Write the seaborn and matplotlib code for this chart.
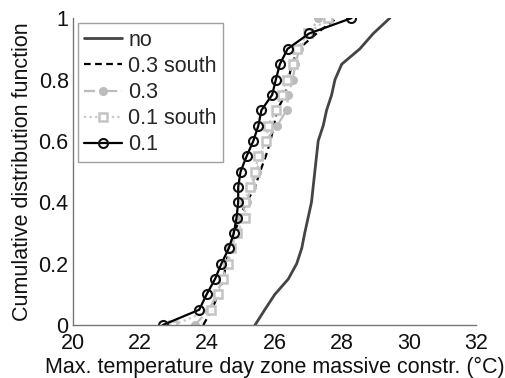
import numpy as np
import pandas as pd
import matplotlib
matplotlib.use("Agg")
import matplotlib.pyplot as plt
import seaborn as sns

cdf = [0.0, 0.05, 0.1, 0.15, 0.2, 0.25, 0.3, 0.35, 0.4, 0.45, 0.5,
       0.55, 0.6, 0.65, 0.7, 0.75, 0.8, 0.85, 0.9, 0.95, 1.0]
t_no = [25.42, 25.71, 26.01, 26.41, 26.66, 26.81, 26.90, 27.00, 27.10, 27.15, 27.20,
        27.25, 27.30, 27.45, 27.55, 27.70, 27.80, 28.00, 28.54, 28.94, 29.43]
t_03s = [23.88, 24.13, 24.33, 24.49, 24.55, 24.67, 24.82, 24.95, 25.17, 25.42, 25.57,
         25.74, 25.88, 25.98, 26.08, 26.31, 26.42, 26.51, 26.72, 27.25, 27.85]
t_03 = [23.63, 24.05, 24.28, 24.45, 24.58, 24.70, 24.84, 24.98, 25.17, 25.32, 25.47,
        25.57, 25.74, 26.08, 26.36, 26.41, 26.54, 26.62, 26.74, 27.05, 27.30]
t_01s = [22.99, 24.11, 24.33, 24.47, 24.62, 24.72, 24.87, 25.12, 25.12, 25.27, 25.42,
         25.52, 25.76, 25.81, 26.04, 26.21, 26.36, 26.54, 26.68, 27.00, 27.60]
t_01 = [22.67, 23.76, 23.98, 24.23, 24.42, 24.64, 24.79, 24.87, 24.92, 24.92, 24.99,
        25.17, 25.37, 25.52, 25.61, 25.93, 26.04, 26.16, 26.39, 27.03, 28.29]
series_names = ["no", "0.3 south", "0.3", "0.1 south", "0.1"]
x_ticks = [20, 22, 24, 26, 28, 30, 32]
y_ticks = [0, 0.2, 0.4, 0.6, 0.8, 1]
y_tick_labels = ["0", "0.2", "0.4", "0.6", "0.8", "1"]

sns.set_theme(style="white")
plt.rcParams["font.family"] = ["Liberation Sans", "DejaVu Sans"]

df = pd.concat([
    pd.DataFrame({"T": vals, "F": cdf, "case": name})
    for name, vals in zip(series_names, [t_no, t_03s, t_03, t_01s, t_01])
], ignore_index=True)

styles = {
    "no": dict(color="#444444", lw=2.0, ls="-", marker=None),
    "0.3 south": dict(color="black", lw=1.6, ls=(0, (3, 2)), marker=None),
    "0.3": dict(color="#bcbcbc", lw=1.6, ls=(0, (5, 2, 1, 2)), marker="o",
                ms=5.5, mfc="#bcbcbc", mec="#bcbcbc", mew=1.0),
    "0.1 south": dict(color="#c8c8c8", lw=1.6, ls=(0, (1, 1.5)), marker="s",
                      ms=5.5, mfc="white", mec="#c4c4c4", mew=1.8),
    "0.1": dict(color="black", lw=1.6, ls="-", marker="o",
                ms=6.5, mfc="none", mec="#111111", mew=1.5),
}

FS = 15.5

fig = plt.figure(figsize=(5.06, 3.78), dpi=100)
ax = fig.add_axes([0.144, 0.140, 0.797, 0.812])

for name in series_names:
    st = styles[name]
    sub = df[df["case"] == name]
    kw = dict(color=st["color"], linewidth=st["lw"], linestyle=st["ls"])
    if st["marker"]:
        kw.update(marker=st["marker"], markersize=st["ms"],
                  markerfacecolor=st["mfc"], markeredgecolor=st["mec"],
                  markeredgewidth=st["mew"])
    sns.lineplot(data=sub, x="T", y="F", ax=ax, sort=False, estimator=None,
                 label=name, **kw)

ax.set_xlim(20, 32)
ax.set_ylim(0, 1)
ax.set_xticks(x_ticks)
ax.set_yticks(y_ticks)
ax.set_yticklabels(y_tick_labels)
ax.set_xlabel("Max. temperature day zone massive constr. (°C)", fontsize=FS,
              color="#111111", labelpad=2)
ax.set_ylabel("Cumulative distribution function", fontsize=FS,
              color="#111111", labelpad=4)
ax.tick_params(axis="x", pad=6)
ax.tick_params(axis="y", pad=3)
ax.tick_params(direction="in", length=4, width=1, colors="#777777",
               labelcolor="#111111", labelsize=FS)
for s in ["top", "right"]:
    ax.spines[s].set_visible(False)
for s in ["left", "bottom"]:
    ax.spines[s].set_color("#777777")
    ax.spines[s].set_linewidth(1.0)

leg = ax.legend(loc="upper left", bbox_to_anchor=(0.012, 0.983), fontsize=FS,
                frameon=True, fancybox=False, edgecolor="#888888",
                handlelength=1.75, handletextpad=0.3, borderpad=0.3,
                labelspacing=0.24, borderaxespad=0.0)
leg.get_frame().set_linewidth(1.0)

fig.savefig("out.png", dpi=100)
